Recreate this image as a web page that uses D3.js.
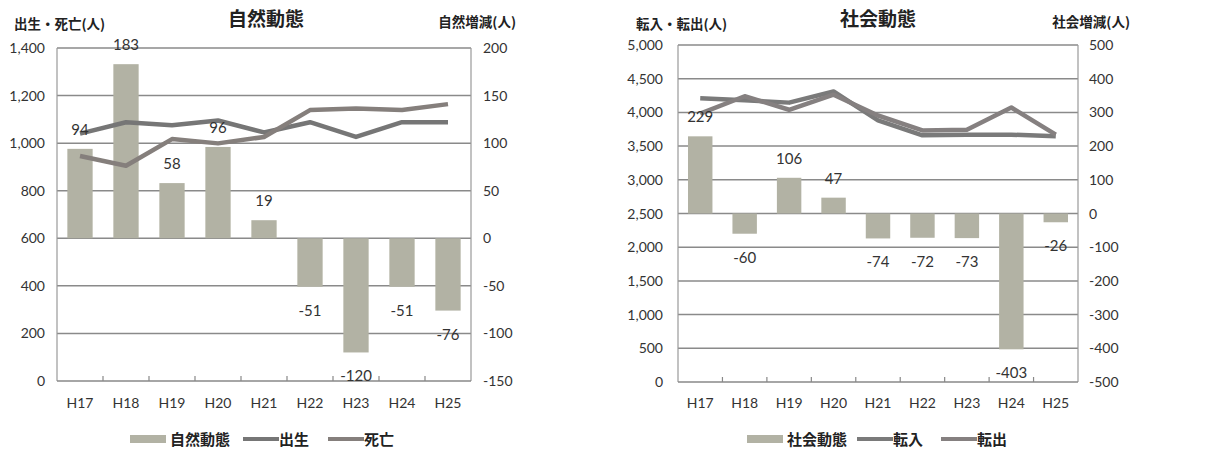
<!DOCTYPE html>
<html><head><meta charset="utf-8">
<script src="https://cdn.jsdelivr.net/npm/d3@7"></script>
<style>
body{margin:0;background:#fff;}
svg{display:block;}
text{font-family:Lato,"Noto Sans CJK JP",sans-serif;}
.jp{font-family:"Noto Sans CJK JP",sans-serif;font-weight:bold;}
</style></head>
<body>
<svg id="c" width="1231" height="457"></svg>
<script>
const categories = ["H17","H18","H19","H20","H21","H22","H23","H24","H25"];

// 自然動態
const naturalChange = [94,183,58,96,19,-51,-120,-51,-76];
const births = [1040,1088,1075,1095,1045,1088,1026,1088,1088];
const deaths = [946,905,1017,999,1026,1139,1146,1139,1164];
const leftTicks1 = [0,200,400,600,800,1000,1200,1400];
const rightTicks1 = [-150,-100,-50,0,50,100,150,200];

// 社会動態
const socialChange = [229,-60,106,47,-74,-72,-73,-403,-26];
const moveIn = [4211,4180,4145,4310,3880,3660,3670,3670,3645];
const moveOut = [3982,4240,4039,4263,3954,3732,3743,4073,3671];
const leftTicks2 = [0,500,1000,1500,2000,2500,3000,3500,4000,4500,5000];
const rightTicks2 = [-500,-400,-300,-200,-100,0,100,200,300,400,500];

const svg = d3.select("#c");
const fmt = d3.format(",");

function drawChart(o){
  const g = svg.append("g");
  const x = d3.scaleBand().domain(categories).range([o.left,o.right]).paddingInner(0.45).paddingOuter(0.225);
  const xb = d3.scaleBand().domain(categories).range([o.left,o.right]);
  const yL = d3.scaleLinear().domain(o.lDom).range([o.bottom,o.top]);
  const yR = d3.scaleLinear().domain(o.rDom).range([o.bottom,o.top]);

  // gridlines
  g.append("g").selectAll("line").data(o.lTicks.slice(1)).join("line")
    .attr("x1",o.left).attr("x2",o.right)
    .attr("y1",d=>yL(d)).attr("y2",d=>yL(d))
    .attr("stroke","#8a8a8a").attr("stroke-width",1.5);
  // frame
  g.append("line").attr("x1",o.left).attr("x2",o.left).attr("y1",o.top).attr("y2",o.bottom).attr("stroke","#999").attr("stroke-width",1.2);
  g.append("line").attr("x1",o.right).attr("x2",o.right).attr("y1",o.top).attr("y2",o.bottom).attr("stroke","#999").attr("stroke-width",1.2);
  g.append("line").attr("x1",o.left).attr("x2",o.right).attr("y1",o.bottom).attr("y2",o.bottom).attr("stroke","#888").attr("stroke-width",1.5);
  // category ticks
  g.append("g").selectAll("line").data(categories.slice(1)).join("line")
    .attr("x1",d=>xb(d)).attr("x2",d=>xb(d)).attr("y1",o.bottom).attr("y2",o.bottom-5)
    .attr("stroke","#888").attr("stroke-width",1.2);

  // bars
  g.append("g").selectAll("rect").data(o.bars).join("rect")
    .attr("x",(d,i)=>x(categories[i]))
    .attr("width",x.bandwidth())
    .attr("y",d=>yR(Math.max(0,d)))
    .attr("height",d=>Math.abs(yR(d)-yR(0)))
    .attr("fill","#b2b2a4");

  // lines
  const line = d3.line().x((d,i)=>xb(categories[i])+xb.bandwidth()/2).y(d=>yL(d));
  o.lines.forEach(l=>{
    g.append("path").datum(l.data).attr("d",line).attr("fill","none")
      .attr("stroke",l.color).attr("stroke-width",4.5).attr("stroke-linejoin","round");
  });

  // bar labels
  g.append("g").selectAll("text").data(o.bars).join("text")
    .attr("x",(d,i)=>x(categories[i])+x.bandwidth()/2)
    .attr("y",d=> d>=0 ? yR(d)-14 : yR(d)+29)
    .attr("text-anchor","middle").attr("font-size",15).attr("fill","#333")
    .text(d=>d);

  // left ticks
  g.append("g").selectAll("text").data(o.lTicks).join("text")
    .attr("x",o.lLabelX).attr("y",d=>yL(d)+5).attr("text-anchor","end")
    .attr("font-size",14).attr("fill","#333").text(d=>fmt(d));
  // right ticks
  g.append("g").selectAll("text").data(o.rTicks).join("text")
    .attr("x",o.rLabelX).attr("y",d=>yR(d)+5).attr("text-anchor","start")
    .attr("font-size",14).attr("fill","#333").text(d=>d);
  // category labels
  g.append("g").selectAll("text").data(categories).join("text")
    .attr("x",d=>xb(d)+xb.bandwidth()/2).attr("y",408).attr("text-anchor","middle")
    .attr("font-size",14).attr("fill","#333").text(d=>d);

  // titles
  g.append("text").attr("class","jp").attr("x",o.titleX).attr("y",26).attr("text-anchor","middle")
    .attr("font-size",19).attr("fill","#222").text(o.title);
  g.append("text").attr("class","jp").attr("x",o.lTitleX).attr("y",29).attr("font-size",13.5).attr("fill","#222").text(o.lTitle);
  g.append("text").attr("class","jp").attr("x",o.rTitleX).attr("y",27).attr("text-anchor","end").attr("font-size",13.5).attr("fill","#222").text(o.rTitle);

  // legend
  const lg = g.append("g");
  lg.append("rect").attr("x",o.legX[0]).attr("y",435).attr("width",36).attr("height",8).attr("fill","#b2b2a4");
  lg.append("text").attr("class","jp").attr("x",o.legX[0]+40).attr("y",445).attr("font-size",15).attr("fill","#222").text(o.legend[0]);
  [1,2].forEach(k=>{
    lg.append("line").attr("x1",o.legX[k]).attr("x2",o.legX[k]+36).attr("y1",439).attr("y2",439)
      .attr("stroke",o.lines[k-1].color).attr("stroke-width",4);
    lg.append("text").attr("class","jp").attr("x",o.legX[k]+36).attr("y",445).attr("font-size",15).attr("fill","#222").text(o.legend[k]);
  });
}

drawChart({
  left:57,right:471,top:48,bottom:381,
  lDom:[0,1400], rDom:[-150,200],
  lTicks:leftTicks1, rTicks:rightTicks1,
  bars:naturalChange,
  lines:[{data:births,color:"#767676"},{data:deaths,color:"#857f7c"}],
  lLabelX:45, rLabelX:483,
  title:"自然動態", titleX:266, lTitle:"出生・死亡(人)", lTitleX:14, rTitle:"自然増減(人)", rTitleX:516,
  legend:["自然動態","出生","死亡"], legX:[130,243,328]
});
drawChart({
  left:678,right:1078,top:45,bottom:382,
  lDom:[0,5000], rDom:[-500,500],
  lTicks:leftTicks2, rTicks:rightTicks2,
  bars:socialChange,
  lines:[{data:moveIn,color:"#7a7a7a"},{data:moveOut,color:"#858080"}],
  lLabelX:663, rLabelX:1089,
  title:"社会動態", titleX:878, lTitle:"転入・転出(人)", lTitleX:636, rTitle:"社会増減(人)", rTitleX:1130,
  legend:["社会動態","転入","転出"], legX:[747,857,941]
});
</script>
</body></html>
